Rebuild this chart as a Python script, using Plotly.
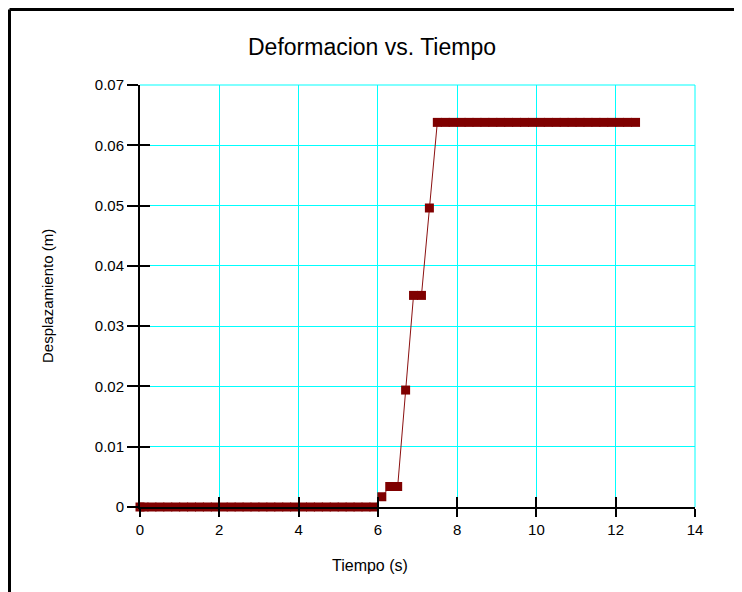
import plotly.graph_objects as go

# ── data ────────────────────────────────────────────────────────────────────
tiempo = [
    0.0, 0.1, 0.3, 0.5, 0.7, 0.9, 1.1, 1.3, 1.5, 1.7, 1.9, 2.1, 2.3, 2.5, 2.7,
    2.9, 3.1, 3.3, 3.5, 3.7, 3.9, 4.1, 4.3, 4.5, 4.7, 4.9, 5.1, 5.3, 5.5, 5.7,
    5.9,
    6.1, 6.3, 6.5, 6.7, 6.9, 7.1, 7.3,
    7.5, 7.7, 7.9, 8.1, 8.3, 8.5, 8.7, 8.9, 9.1, 9.3, 9.5, 9.7, 9.9, 10.1,
    10.3, 10.5, 10.7, 10.9, 11.1, 11.3, 11.5, 11.7, 11.9, 12.1, 12.3, 12.5,
]
desplazamiento = [
    0, 0, 0, 0, 0, 0, 0, 0, 0, 0, 0, 0, 0, 0, 0,
    0, 0, 0, 0, 0, 0, 0, 0, 0, 0, 0, 0, 0, 0, 0,
    0,
    0.0017, 0.0034, 0.0034, 0.0194, 0.0351, 0.0351, 0.0496,
    0.0638, 0.0638, 0.0638, 0.0638, 0.0638, 0.0638, 0.0638, 0.0638, 0.0638,
    0.0638, 0.0638, 0.0638, 0.0638, 0.0638, 0.0638, 0.0638, 0.0638, 0.0638,
    0.0638, 0.0638, 0.0638, 0.0638, 0.0638, 0.0638, 0.0638, 0.0638,
]
x_ticks = [0, 2, 4, 6, 8, 10, 12, 14]
y_ticks = [0, 0.01, 0.02, 0.03, 0.04, 0.05, 0.06, 0.07]
y_labels = ['0', '0.01', '0.02', '0.03', '0.04', '0.05', '0.06', '0.07']

FONT = 'Arial, Liberation Sans, sans-serif'
DARK_RED = '#7f0000'
CYAN = '#00ffff'

fig = go.Figure()
fig.add_trace(go.Scatter(
    x=tiempo, y=desplazamiento,
    mode='lines+markers',
    line=dict(color='#8b1010', width=1),
    marker=dict(symbol='square', size=9, color=DARK_RED, line=dict(width=0)),
    cliponaxis=False,
    showlegend=False,
))
# empty trace so the second (inside-tick) axes get drawn
fig.add_trace(go.Scatter(x=[None], y=[None], xaxis='x2', yaxis='y2',
                         showlegend=False, hoverinfo='skip'))

axis_common = dict(
    showline=True, linecolor='black', linewidth=2,
    tickcolor='black', tickwidth=2,
    zeroline=False,
    tickfont=dict(family=FONT, size=15, color='black'),
)
inside_ticks = dict(
    ticks='inside', ticklen=10, tickcolor='black', tickwidth=2,
    showticklabels=False, showgrid=False, zeroline=False, showline=False,
)

# page body adds an 8px offset, so the figure is placed 8px up/left
fig.update_layout(
    template='none',
    width=742, height=592,
    plot_bgcolor='white', paper_bgcolor='white',
    margin=dict(l=132, r=55, t=77, b=93),
    font=dict(family=FONT, color='black'),
    title=dict(text='Deformacion vs. Tiempo', x=364 / 742, xref='container',
               y=1 - 39 / 592, yref='container', yanchor='middle', xanchor='center',
               font=dict(family=FONT, size=23, color='black')),
    xaxis=dict(range=[0, 14], tickvals=x_ticks, ticks='outside', ticklen=8,
               showgrid=True, gridcolor=CYAN, gridwidth=1, **axis_common),
    yaxis=dict(range=[0, 0.07], tickvals=y_ticks, ticktext=y_labels,
               ticks='outside', ticklen=11,
               showgrid=True, gridcolor=CYAN, gridwidth=1, **axis_common),
    xaxis2=dict(range=[0, 14], tickvals=x_ticks, overlaying='x', side='bottom',
                **inside_ticks),
    yaxis2=dict(range=[0, 0.07], tickvals=y_ticks, overlaying='y', side='left',
                **inside_ticks),
)

# axis titles
fig.add_annotation(text='Tiempo (s)', xref='paper', yref='paper',
                   x=(370 - 140) / 555, y=(507 - 565) / 422,
                   xanchor='center', yanchor='middle',
                   showarrow=False, font=dict(family=FONT, size=16, color='black'))
fig.add_annotation(text='Desplazamiento (m)', xref='paper', yref='paper',
                   x=(47 - 140) / 555, y=0.5, textangle=-90,
                   xanchor='center', yanchor='middle',
                   showarrow=False, font=dict(family=FONT, size=15, color='black'))

# cyan frame at the far edges of the grid
fig.add_shape(type='line', xref='paper', yref='paper', x0=1, x1=1, y0=0, y1=1,
              line=dict(color=CYAN, width=1), layer='below')
fig.add_shape(type='line', xref='paper', yref='paper', x0=0, x1=1, y0=1, y1=1,
              line=dict(color=CYAN, width=1), layer='below')

# black outer frame (left and top edges only, as in the cropped original)
fx = (9.5 - 140) / 555
fy = (507 - 9.5) / 422
fig.add_shape(type='line', xref='paper', yref='paper', x0=fx, x1=fx, y0=fy,
              y1=(507 - 620) / 422, line=dict(color='black', width=3))
fig.add_shape(type='line', xref='paper', yref='paper', x0=fx, x1=(780 - 140) / 555,
              y0=fy, y1=fy, line=dict(color='black', width=3))

fig.write_html('out.html')
